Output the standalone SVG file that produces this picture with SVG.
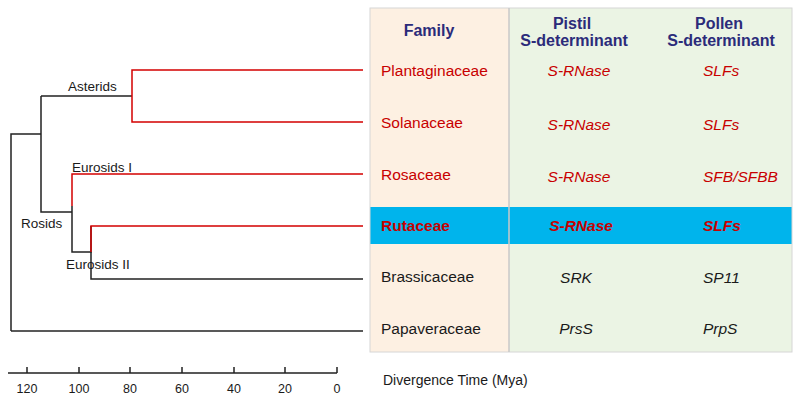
<svg xmlns="http://www.w3.org/2000/svg" width="800" height="402" viewBox="0 0 800 402">
<style>
text{font-family:"Liberation Sans",Arial,sans-serif}
.lbl{font-size:13.5px;fill:#1a1a1a}
.ax{font-size:12.5px;fill:#1a1a1a;text-anchor:middle}
.hdr{font-size:16px;font-weight:bold;fill:#2b2b7a;text-anchor:middle}
.fam{font-size:15.5px}
.it{font-size:15.5px;font-style:italic}
.red{fill:#c80000}
.blk{fill:#1a1a1a}
.bold{font-weight:bold}
.br{stroke:#222;stroke-width:1.5;fill:none}
.rd{stroke:#d40000;stroke-width:1.5;fill:none}
</style>
<rect width="800" height="402" fill="#fff"/>
<g id="table">
<rect x="370" y="8" width="139" height="344" fill="#fdf0e2"/>
<rect x="509" y="8" width="283" height="344" fill="#ebf4e4"/>
<rect x="370" y="207" width="422" height="37" fill="#00b4ec"/>
<rect x="370" y="8" width="422" height="344" fill="none" stroke="#d6d6d6" stroke-width="1"/>
<line x1="509" y1="8" x2="509" y2="352" stroke="#c9c9c9" stroke-width="1.5"/>
<text class="hdr" x="429" y="36">Family</text>
<text class="hdr" x="572" y="29">Pistil</text>
<text class="hdr" x="574" y="46">S-determinant</text>
<text class="hdr" x="719" y="29">Pollen</text>
<text class="hdr" x="721" y="46">S-determinant</text>
</g>
<g id="row-plantaginaceae">
<text class="fam red" x="381" y="76">Plantaginaceae</text>
<text class="it red" x="579" y="76" text-anchor="middle">S-RNase</text>
<text class="it red" x="703" y="76">SLFs</text>
</g>
<g id="row-solanaceae">
<text class="fam red" x="381" y="128">Solanaceae</text>
<text class="it red" x="579" y="130" text-anchor="middle">S-RNase</text>
<text class="it red" x="703" y="130">SLFs</text>
</g>
<g id="row-rosaceae">
<text class="fam red" x="381" y="180">Rosaceae</text>
<text class="it red" x="579" y="182" text-anchor="middle">S-RNase</text>
<text class="it red" x="703" y="182">SFB/SFBB</text>
</g>
<g id="row-rutaceae">
<text class="fam red bold" x="381" y="231">Rutaceae</text>
<text class="it red bold" x="581" y="231" text-anchor="middle">S-RNase</text>
<text class="it red bold" x="703" y="231">SLFs</text>
</g>
<g id="row-brassicaceae">
<text class="fam blk" x="381" y="282">Brassicaceae</text>
<text class="it blk" x="576" y="283" text-anchor="middle">SRK</text>
<text class="it blk" x="703" y="283">SP11</text>
</g>
<g id="row-papaveraceae">
<text class="fam blk" x="381" y="334">Papaveraceae</text>
<text class="it blk" x="576" y="334" text-anchor="middle">PrsS</text>
<text class="it blk" x="703" y="334">PrpS</text>
</g>
<g id="tree">
<path class="br" d="M11,331 V134 H41 M41,96 V212 H72 M41,96 H132"/>
<path class="rd" d="M363,70 H132 V122 H363"/>
<path class="rd" d="M363,174 H72 V206"/>
<path class="br" d="M72,206 V252 H91 V226"/>
<path class="rd" d="M91,252 V226 H363"/>
<path class="br" d="M91,252 V279 H363"/>
<path class="br" d="M11,331 H363"/>
<text class="lbl" x="68" y="91">Asterids</text>
<text class="lbl" x="72" y="172">Eurosids I</text>
<text class="lbl" x="21" y="228">Rosids</text>
<text class="lbl" x="66" y="269">Eurosids II</text>
</g>
<g id="axis">
<path class="br" d="M8,373 H337 M27,367 V373 M79,367 V373 M130,367 V373 M182,367 V373 M234,367 V373 M285,367 V373 M337,367 V373"/>
<text class="ax" x="27" y="393">120</text>
<text class="ax" x="79" y="393">100</text>
<text class="ax" x="130" y="393">80</text>
<text class="ax" x="182" y="393">60</text>
<text class="ax" x="234" y="393">40</text>
<text class="ax" x="285" y="393">20</text>
<text class="ax" x="337" y="393">0</text>
<text x="383" y="385" font-size="14" fill="#1a1a1a">Divergence Time (Mya)</text>
</g>
</svg>
